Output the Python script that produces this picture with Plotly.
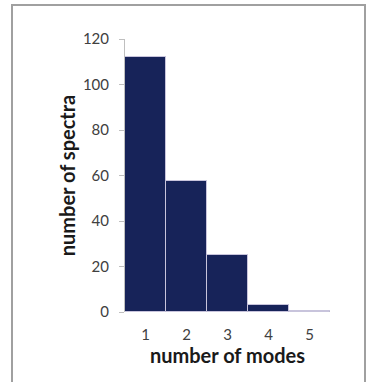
import plotly.graph_objects as go

modes = [1, 2, 3, 4, 5]
spectra = [112, 57.5, 25, 3, 0.5]
y_ticks = [0, 20, 40, 60, 80, 100, 120]

fig = go.Figure(go.Bar(
    x=modes, y=spectra,
    marker=dict(color="#172359", line=dict(color="#c8c4dc", width=1)),
    width=1,
))

L, R, T, B = 125, 38, 39, 70
PW, PH = 368 - L - R, 382 - T - B

fig.update_layout(
    width=368, height=382,
    margin=dict(l=L, r=R, t=T, b=B),
    paper_bgcolor="white", plot_bgcolor="white",
    bargap=0, showlegend=False,
    font=dict(family="Lato, Open Sans, sans-serif", color="#404040", size=15),
    xaxis=dict(
        range=[0.5, 5.5], tickvals=modes, ticktext=[str(m) for m in modes],
        showgrid=False, zeroline=False, showline=False, ticks="",
        tickfont=dict(size=15, color="#404040"), ticklabelstandoff=12,
        title=dict(text="<b>number of modes</b>", font=dict(size=20, color="#1a1a1a"), standoff=0),
    ),
    yaxis=dict(
        range=[0, 120], tickvals=y_ticks, showgrid=False, zeroline=False,
        showline=True, linecolor="#bfbfbf", linewidth=1,
        ticks="outside", ticklen=5, tickcolor="#bfbfbf",
        tickfont=dict(size=15, color="#404040"), ticklabelstandoff=7,
        title=dict(text="<b>number of spectra</b>", font=dict(size=20, color="#1a1a1a"), standoff=1),
    ),
    shapes=[
        dict(type="line", xref="paper", yref="y", x0=0, x1=1, y0=0, y1=0,
             line=dict(color="#a6a6a6", width=1.5), layer="below"),
        dict(type="rect", xref="paper", yref="paper",
             x0=(12 - L) / PW, x1=(365 - L) / PW,
             y0=-(400 - (382 - B)) / PH, y1=1 + (T - 5) / PH,
             line=dict(color="#a0a0a0", width=2)),
    ],
)

fig.write_html("out.html", config={"displayModeBar": False},
               post_script="document.body.style.margin='0px';")
